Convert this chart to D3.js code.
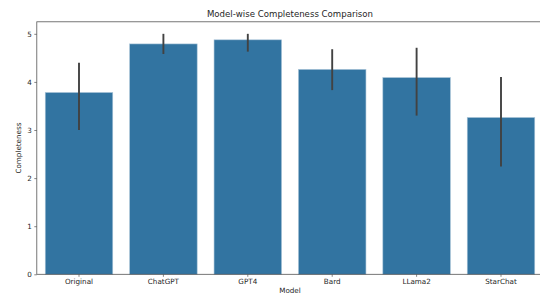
<!DOCTYPE html>
<html><head><meta charset="utf-8">
<script src="https://cdn.jsdelivr.net/npm/d3@7"></script>
<style>body{margin:0;background:#fff}svg{display:block}text{font-family:"DejaVu Sans",sans-serif;fill:#262626}</style>
</head><body><svg id="c" width="540" height="295"></svg>
<script>
const models = ["Original","ChatGPT","GPT4","Bard","LLama2","StarChat"];
const means = [3.78, 4.79, 4.875, 4.26, 4.09, 3.26];
const ciLow = [3.0, 4.58, 4.63, 3.83, 3.30, 2.24];
const ciHigh = [4.40, 5.0, 5.0, 4.68, 4.71, 4.10];
const yTicks = [0,1,2,3,4,5];

const svg = d3.select("#c");
const L = 36.8, R = 543.2, T = 21.8, B = 274.3;
const x = d3.scaleBand().domain(models).range([L, R]).paddingInner(0.2).paddingOuter(0.1);
const y = d3.scaleLinear().domain([0, 5.25]).range([B, T]);

const data = models.map((m,i)=>({m, v:means[i], lo:ciLow[i], hi:ciHigh[i]}));

svg.selectAll("rect.bar").data(data).join("rect").attr("class","bar")
  .attr("x", d=>x(d.m)).attr("width", x.bandwidth())
  .attr("y", d=>y(d.v)).attr("height", d=>y(0)-y(d.v))
  .attr("fill","#3274a1").attr("stroke","#a9c4d8").attr("stroke-width",0.6);

svg.selectAll("line.err").data(data).join("line").attr("class","err")
  .attr("x1", d=>x(d.m)+x.bandwidth()/2).attr("x2", d=>x(d.m)+x.bandwidth()/2)
  .attr("y1", d=>y(d.lo)).attr("y2", d=>y(d.hi))
  .attr("stroke","#424242").attr("stroke-width",1.9);

const yAxis = d3.axisLeft(y).tickValues(yTicks).tickFormat(d3.format("d")).tickSize(2.5).tickPadding(2.5);
const gy = svg.append("g").attr("transform",`translate(${L},0)`).call(yAxis);
gy.select(".domain").remove();
gy.selectAll("line").attr("stroke","#333").attr("stroke-width",0.6);
gy.selectAll("text").attr("font-size",7.2).style("fill","#262626");

const xAxis = d3.axisBottom(x).tickSize(2.5).tickPadding(2.5);
const gx = svg.append("g").attr("transform",`translate(0,${B})`).call(xAxis);
gx.select(".domain").remove();
gx.selectAll("line").attr("stroke","#333").attr("stroke-width",0.6);
gx.selectAll("text").attr("font-size",7.2).style("fill","#262626");

// spines
svg.append("rect").attr("x",L).attr("y",T).attr("width",R-L).attr("height",B-T)
  .attr("fill","none").attr("stroke","#555").attr("stroke-width",0.8);

svg.append("text").attr("x",(L+R)/2).attr("y",16.5).attr("text-anchor","middle")
  .attr("font-size",8.6).text("Model-wise Completeness Comparison");
svg.append("text").attr("x",(L+R)/2).attr("y",292.8).attr("text-anchor","middle")
  .attr("font-size",7.2).text("Model");
svg.append("text").attr("transform",`translate(20.5,${(T+B)/2}) rotate(-90)`).attr("text-anchor","middle")
  .attr("font-size",7.2).text("Completeness");
</script></body></html>
